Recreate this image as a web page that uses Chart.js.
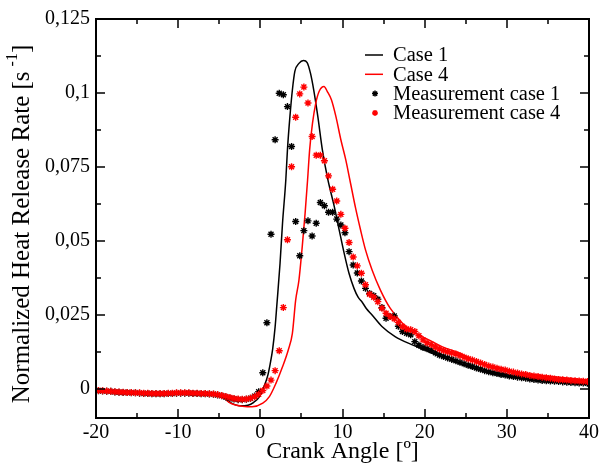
<!DOCTYPE html>
<html>
<head>
<meta charset="utf-8">
<script src="https://cdn.jsdelivr.net/npm/chart.js@4/dist/chart.umd.min.js"></script>
<style>
html,body{margin:0;padding:0;background:#fff}
</style>
</head>
<body>
<canvas id="hrrChart" width="602" height="466"></canvas>
<script>
// Normalized heat release rate vs crank angle

const xTicks = [-20,-10,0,10,20,30,40]
const yTicks = [0,0.025,0.05,0.075,0.1,0.125]

// simulated curves
const case1Angle = [-20,-17,-14,-11,-8.5,-6,-5,-4.5,-3.5,-2.5,-1.5,-0.8,-0.1,0.4,0.9,1.2,1.5,1.8,2.0,2.4,2.7,3.1,3.3,3.6,3.9,4.2,4.7,5.25,5.7,6.1,6.5,7.0,7.55,8.2,9.0,9.6,10.2,10.8,11.4,11.9,12.4,12.9,13.6,14.8,16.4,18.5,20.5,22.5,24.1,26.5,29.8,33.8,40]
const case1Rate = [-0.0006,-0.0011,-0.0015,-0.0016,-0.0015,-0.0018,-0.0022,-0.003,-0.0048,-0.0057,-0.0055,-0.0045,-0.0026,0.0005,0.0045,0.0085,0.0135,0.021,0.028,0.0425,0.056,0.0706,0.0808,0.092,0.101,0.1073,0.110,0.111,0.1103,0.1067,0.101,0.092,0.0808,0.071,0.0616,0.0537,0.0459,0.039,0.034,0.031,0.0293,0.0272,0.025,0.0211,0.0177,0.0149,0.0126,0.0104,0.0087,0.0064,0.0042,0.003,0.0019]

const case4Angle = [-20,-17,-14,-11,-8.5,-6,-5,-4.5,-3.8,-3,-2.2,-1,0.3,1.1,1.9,2.7,3.4,3.9,4.3,4.7,5.1,5.45,5.75,6.0,6.35,6.75,7.15,7.75,8.15,8.65,9.2,9.8,10.4,10.9,11.6,12.2,12.8,13.6,14.6,15.8,17.3,18.9,20.5,22.1,24.1,26.5,29.8,33.8,40]
const case4Rate = [-0.0006,-0.0011,-0.0015,-0.0016,-0.0015,-0.0018,-0.0022,-0.0028,-0.0045,-0.0054,-0.0058,-0.006,-0.0048,-0.0026,0.0019,0.0075,0.0132,0.0188,0.030,0.0368,0.0481,0.0594,0.0706,0.0808,0.0898,0.0966,0.1005,0.1022,0.1005,0.0977,0.092,0.0842,0.0774,0.0706,0.061,0.0537,0.047,0.0402,0.0335,0.0273,0.0222,0.0188,0.0166,0.0143,0.0123,0.0092,0.0064,0.0047,0.003]

// measurements
const measAngle = [
-19.7,-19.2,-18.7,-18.2,-17.7,-17.2,-16.7,-16.2,-15.7,-15.2,
-14.7,-14.2,-13.7,-13.2,-12.7,-12.2,-11.7,-11.2,-10.7,-10.2,
-9.7,-9.2,-8.7,-8.2,-7.7,-7.2,-6.7,-6.2,-5.7,-5.2,
-4.7,-4.2,-3.7,-3.2,-2.7,-2.2,-1.7,-1.2,-0.7,-0.2,
0.3,0.8,1.3,1.8,2.3,2.8,3.3,3.8,4.3,4.8,
5.3,5.8,6.3,6.8,7.3,7.8,8.3,8.8,9.3,9.8,
10.3,10.8,11.3,11.8,12.3,12.8,13.3,13.8,14.3,14.8,
15.3,15.8,16.3,16.8,17.3,17.8,18.3,18.8,19.3,19.8,
20.3,20.8,21.3,21.8,22.3,22.8,23.3,23.8,24.3,24.8,
25.3,25.8,26.3,26.8,27.3,27.8,28.3,28.8,29.3,29.8,
30.3,30.8,31.3,31.8,32.3,32.8,33.3,33.8,34.3,34.8,
35.3,35.8,36.3,36.8,37.3,37.8,38.3,38.8,39.3,39.8]

const meas1Rate = [
-0.0006,-0.0007,-0.0008,-0.0008,-0.0010,-0.0011,-0.0012,-0.0012,-0.0013,-0.0013,
-0.0014,-0.0015,-0.0015,-0.0016,-0.0016,-0.0016,-0.0016,-0.0015,-0.0015,-0.0014,
-0.0014,-0.0014,-0.0014,-0.0015,-0.0015,-0.0016,-0.0016,-0.0017,-0.0018,-0.0020,
-0.0023,-0.0027,-0.0031,-0.0034,-0.0036,-0.0036,-0.0035,-0.0031,-0.0024,-0.0009,
0.0055,0.0224,0.0523,0.0842,0.0999,0.0994,0.0954,0.0819,0.0566,0.0450,
0.0535,0.0568,0.0517,0.0560,0.0630,0.0619,0.0597,0.0597,0.0574,0.0554,
0.0528,0.0464,0.0419,0.0392,0.0365,0.0340,0.0323,0.0315,0.0303,0.0275,
0.0239,0.0245,0.0247,0.0212,0.0194,0.0188,0.0183,0.0160,0.0148,0.0140,
0.0136,0.0130,0.0122,0.0115,0.0110,0.0105,0.0100,0.0095,0.0090,0.0085,
0.0080,0.0076,0.0071,0.0067,0.0062,0.0058,0.0055,0.0052,0.0049,0.0047,
0.0044,0.0042,0.0040,0.0038,0.0036,0.0034,0.0032,0.0030,0.0029,0.0028,
0.0027,0.0026,0.0025,0.0024,0.0023,0.0022,0.0021,0.0020,0.0020,0.0019]

const meas4Rate = [
-0.0005,-0.0006,-0.0007,-0.0008,-0.0009,-0.0010,-0.0011,-0.0012,-0.0012,-0.0013,
-0.0013,-0.0014,-0.0014,-0.0015,-0.0015,-0.0015,-0.0015,-0.0014,-0.0014,-0.0013,
-0.0013,-0.0013,-0.0013,-0.0014,-0.0014,-0.0015,-0.0015,-0.0016,-0.0017,-0.0019,
-0.0022,-0.0025,-0.0029,-0.0032,-0.0034,-0.0035,-0.0034,-0.0031,-0.0026,-0.0018,
-0.0005,0.0010,0.0030,0.0062,0.0129,0.0275,0.0504,0.0751,0.0918,0.0997,
0.1020,0.0966,0.0853,0.0790,0.0790,0.0771,0.0720,0.0675,0.0635,0.0590,
0.0543,0.0495,0.0446,0.0416,0.0391,0.0352,0.0320,0.0310,0.0295,0.0273,
0.0256,0.0245,0.0237,0.0225,0.0211,0.0203,0.0200,0.0194,0.0180,0.0166,
0.0156,0.0150,0.0142,0.0135,0.0130,0.0126,0.0122,0.0118,0.0113,0.0107,
0.0102,0.0098,0.0093,0.0088,0.0083,0.0078,0.0074,0.0070,0.0067,0.0064,
0.0060,0.0057,0.0054,0.0051,0.0049,0.0046,0.0044,0.0042,0.0040,0.0038,
0.0036,0.0034,0.0032,0.0031,0.0030,0.0029,0.0028,0.0027,0.0026,0.0025]

const serif = "'Liberation Serif','Times New Roman','DejaVu Serif',serif"

function pairs(xs, ys){
return xs.map((x,i)=>({x:x, y:ys[i]}))
}

// frame, inward ticks on all four sides, y title, legend inside the plot
const framePlugin = {
id:"frame",
afterDraw(chart){
const ctx = chart.ctx
const a = chart.chartArea
const xs = chart.scales.x
const ys = chart.scales.y
ctx.save()
ctx.strokeStyle = "#000"
ctx.lineWidth = 2
ctx.strokeRect(a.left, a.top, a.right-a.left, a.bottom-a.top)

ctx.lineWidth = 1.5
ctx.beginPath()
for(let v=-20; v<=40; v+=5){
const p = Math.round(xs.getPixelForValue(v))
const len = (v % 10 === 0) ? 9 : 5
ctx.moveTo(p, a.bottom); ctx.lineTo(p, a.bottom-len)
ctx.moveTo(p, a.top); ctx.lineTo(p, a.top+len)
}
for(let k=0; k<=10; k++){
const v = k*0.0125
const p = Math.round(ys.getPixelForValue(v))
const len = (k % 2 === 0) ? 9 : 5
ctx.moveTo(a.left, p); ctx.lineTo(a.left+len, p)
ctx.moveTo(a.right, p); ctx.lineTo(a.right-len, p)
}
ctx.stroke()

// y axis title with superscript
ctx.save()
ctx.translate(22, 224)
ctx.rotate(-Math.PI/2)
ctx.fillStyle = "#000"
ctx.textBaseline = "middle"
const main = "Normalized Heat Release Rate [s"
const sup = "-1"
ctx.font = "25px " + serif
const w1 = ctx.measureText(main).width
ctx.font = "16px " + serif
const w2 = ctx.measureText(sup).width
ctx.font = "25px " + serif
const w3 = ctx.measureText("]").width
let x0 = -(w1 + 5 + w2 + w3)/2
ctx.textAlign = "left"
ctx.fillText(main, x0, 0)
ctx.font = "16px " + serif
ctx.fillText(sup, x0 + w1 + 5, -9)
ctx.font = "25px " + serif
ctx.fillText("]", x0 + w1 + 5 + w2, 0)
ctx.restore()

// legend
const items = [
{text:"Case 1", color:"#000", line:true},
{text:"Case 4", color:"#ff0000", line:true},
{text:"Measurement case 1", color:"#000", line:false},
{text:"Measurement case 4", color:"#ff0000", line:false}
]
ctx.font = "20.5px " + serif
ctx.textBaseline = "middle"
ctx.textAlign = "left"
items.forEach((it,i)=>{
const y = 55 + i*19.3
ctx.strokeStyle = it.color
ctx.fillStyle = it.color
if(it.line){
ctx.lineWidth = 1.5
ctx.beginPath()
ctx.moveTo(365, y); ctx.lineTo(383, y)
ctx.stroke()
}else{
Chart.helpers.drawPoint(ctx, {pointStyle:"star", radius:3, borderWidth:1.2, rotation:0}, 375, y)
}
ctx.fillStyle = "#000"
ctx.fillText(it.text, 393, y+1)
})
ctx.restore()
}
}

const lineStyle = {showLine:true, pointRadius:0, borderWidth:1.5, cubicInterpolationMode:"monotone", fill:false}
const starStyle = {showLine:false, pointStyle:"star", pointRadius:3.5, borderWidth:1.4}

new Chart(document.getElementById("hrrChart"),{
type:"scatter",
data:{
datasets:[
Object.assign({label:"Case 1", data:pairs(case1Angle, case1Rate), borderColor:"#000", backgroundColor:"#000", order:3}, lineStyle),
Object.assign({label:"Case 4", data:pairs(case4Angle, case4Rate), borderColor:"#ff0000", backgroundColor:"#ff0000", order:2}, lineStyle),
Object.assign({label:"Measurement case 1", data:pairs(measAngle, meas1Rate), borderColor:"#000", backgroundColor:"#000", order:1}, starStyle),
Object.assign({label:"Measurement case 4", data:pairs(measAngle, meas4Rate), borderColor:"#ff0000", backgroundColor:"#ff0000", order:0}, starStyle)
]
},
options:{
responsive:false,
animation:false,
layout:{padding:{top:19, right:11, left:0, bottom:0}},
plugins:{
legend:{display:false},
tooltip:{enabled:false}
},
scales:{
x:{
type:"linear",
min:-20,
max:40,
afterBuildTicks:(s)=>{ s.ticks = xTicks.map(v=>({value:v})) },
afterFit:(s)=>{ s.height = 48 },
grid:{display:false, drawTicks:false},
border:{display:false},
ticks:{
padding:3,
color:"#000",
font:{family:serif, size:20},
callback:(v)=>String(v)
},
title:{
display:true,
text:"Crank Angle [º]",
color:"#000",
font:{family:serif, size:24},
padding:{top:0, bottom:0}
}
},
y:{
type:"linear",
min:-0.0098,
max:0.125,
afterBuildTicks:(s)=>{ s.ticks = yTicks.map(v=>({value:v})) },
afterFit:(s)=>{ s.width = 96 },
grid:{display:false, drawTicks:false},
border:{display:false},
ticks:{
padding:6,
color:"#000",
font:{family:serif, size:20},
callback:(v)=>String(v).replace(".", ",")
}
}
}
},
plugins:[framePlugin]
})
</script>
</body>
</html>
